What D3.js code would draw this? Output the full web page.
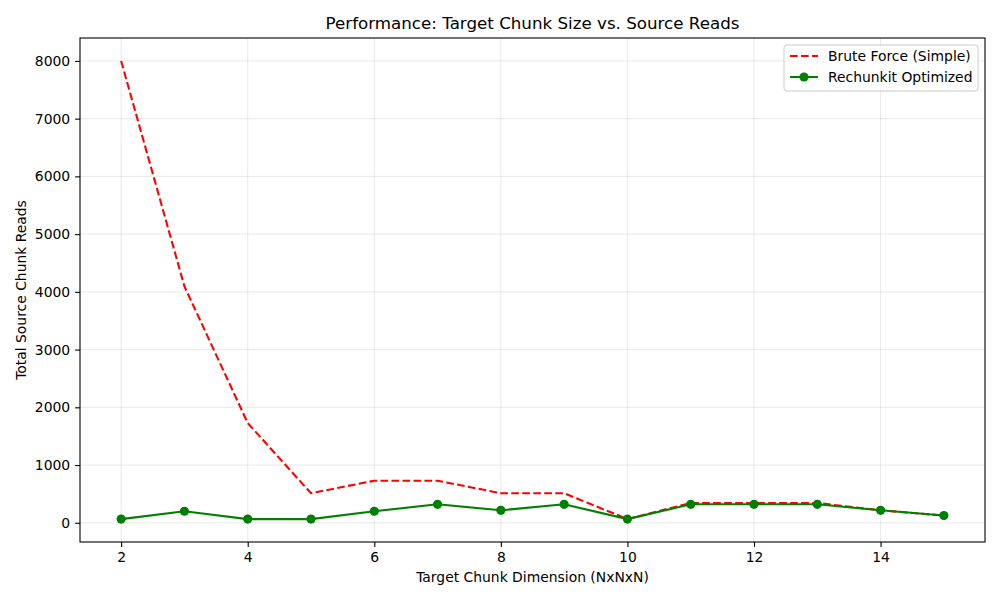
<!DOCTYPE html>
<html>
<head>
<meta charset="utf-8">
<script src="https://cdn.jsdelivr.net/npm/d3@7"></script>
<style>
  body { margin: 0; background: #fff; }
  svg { font-family: "DejaVu Sans", sans-serif; }
</style>
</head>
<body>
<div id="chart"></div>
<script>
// chart data
const dims = [2, 3, 4, 5, 6, 7, 8, 9, 10, 11, 12, 13, 14, 15];
const bruteForce = [8000, 4096, 1728, 512, 729, 729, 512, 512, 64, 343, 343, 343, 216, 125];
const rechunkit = [64, 200, 64, 64, 200, 320, 216, 320, 64, 320, 320, 320, 216, 125];
const xTicks = [2, 4, 6, 8, 10, 12, 14];
const yTicks = [0, 1000, 2000, 3000, 4000, 5000, 6000, 7000, 8000];

const width = 1000;
const height = 600;
const margin = { top: 38, right: 15, bottom: 58, left: 80 };
const iw = width - margin.left - margin.right;
const ih = height - margin.top - margin.bottom;

const svg = d3.select('#chart').append('svg')
    .attr('width', width)
    .attr('height', height);

const g = svg.append('g')
    .attr('transform', 'translate(' + margin.left + ',' + margin.top + ')');

// matplotlib style 5% padding on both axes
const xMin = d3.min(dims), xMax = d3.max(dims);
const xPad = (xMax - xMin) * 0.05;
const x = d3.scaleLinear()
    .domain([xMin - xPad, xMax + xPad])
    .range([0, iw]);

const allY = bruteForce.concat(rechunkit);
const yMin = d3.min(allY), yMax = d3.max(allY);
const yPad = (yMax - yMin) * 0.05;
const y = d3.scaleLinear()
    .domain([yMin - yPad, yMax + yPad])
    .range([ih, 0]);

// grid
g.append('g').selectAll('line')
    .data(xTicks).enter().append('line')
    .attr('x1', d => x(d)).attr('x2', d => x(d))
    .attr('y1', 0).attr('y2', ih)
    .attr('stroke', '#b0b0b0').attr('stroke-opacity', 0.35).attr('stroke-width', 0.8);
g.append('g').selectAll('line')
    .data(yTicks).enter().append('line')
    .attr('y1', d => y(d)).attr('y2', d => y(d))
    .attr('x1', 0).attr('x2', iw)
    .attr('stroke', '#b0b0b0').attr('stroke-opacity', 0.35).attr('stroke-width', 0.8);

// axes
const xAxis = g.append('g')
    .attr('transform', 'translate(0,' + ih + ')')
    .call(d3.axisBottom(x).tickValues(xTicks).tickFormat(d3.format('d'))
        .tickSize(4.9).tickPadding(4.9).tickSizeOuter(0));
const yAxis = g.append('g')
    .call(d3.axisLeft(y).tickValues(yTicks).tickFormat(d3.format('d'))
        .tickSize(4.9).tickPadding(4.9).tickSizeOuter(0));
[xAxis, yAxis].forEach(a => {
    a.select('.domain').remove();
    a.selectAll('text').attr('font-size', 13.9).attr('fill', '#000').attr('font-family', '"DejaVu Sans", sans-serif');
    a.selectAll('line').attr('stroke', '#000').attr('stroke-width', 1.1);
});

// frame
g.append('rect')
    .attr('width', iw).attr('height', ih)
    .attr('fill', 'none').attr('stroke', '#000').attr('stroke-width', 1.1);

const line = d3.line()
    .x((d, i) => x(dims[i]))
    .y(d => y(d));

g.append('path')
    .datum(bruteForce)
    .attr('d', line)
    .attr('fill', 'none')
    .attr('stroke', 'red')
    .attr('stroke-width', 2.1)
    .attr('stroke-dasharray', '7.7,3.3');

g.append('path')
    .datum(rechunkit)
    .attr('d', line)
    .attr('fill', 'none')
    .attr('stroke', 'green')
    .attr('stroke-width', 2.1);

g.selectAll('.dot')
    .data(rechunkit)
    .enter().append('circle')
    .attr('class', 'dot')
    .attr('cx', (d, i) => x(dims[i]))
    .attr('cy', d => y(d))
    .attr('r', 4.6)
    .attr('fill', 'green');

// title and labels
svg.append('text')
    .attr('x', margin.left + iw / 2).attr('y', 29)
    .attr('text-anchor', 'middle')
    .attr('font-size', 16.7)
    .text('Performance: Target Chunk Size vs. Source Reads');

svg.append('text')
    .attr('x', margin.left + iw / 2).attr('y', 582)
    .attr('text-anchor', 'middle')
    .attr('font-size', 13.9)
    .text('Target Chunk Dimension (NxNxN)');

svg.append('text')
    .attr('transform', 'translate(26,' + (margin.top + ih / 2) + ') rotate(-90)')
    .attr('text-anchor', 'middle')
    .attr('font-size', 13.9)
    .text('Total Source Chunk Reads');

// legend
const legend = svg.append('g').attr('transform', 'translate(784,45)');
legend.append('rect')
    .attr('width', 194).attr('height', 46).attr('rx', 3)
    .attr('fill', '#fff').attr('fill-opacity', 0.8)
    .attr('stroke', '#ccc').attr('stroke-width', 1);
const items = [
    { label: 'Brute Force (Simple)', color: 'red', dash: '7.7,3.3', marker: false },
    { label: 'Rechunkit Optimized', color: 'green', dash: null, marker: true }
];
items.forEach((it, i) => {
    const yy = 11 + i * 21;
    legend.append('line')
        .attr('x1', 6).attr('x2', 34).attr('y1', yy).attr('y2', yy)
        .attr('stroke', it.color).attr('stroke-width', 2.1)
        .attr('stroke-dasharray', it.dash);
    if (it.marker) {
        legend.append('circle').attr('cx', 20).attr('cy', yy).attr('r', 4.6).attr('fill', it.color);
    }
    legend.append('text')
        .attr('x', 44).attr('y', yy + 5)
        .attr('font-size', 13.9)
        .text(it.label);
});
</script>
</body>
</html>
